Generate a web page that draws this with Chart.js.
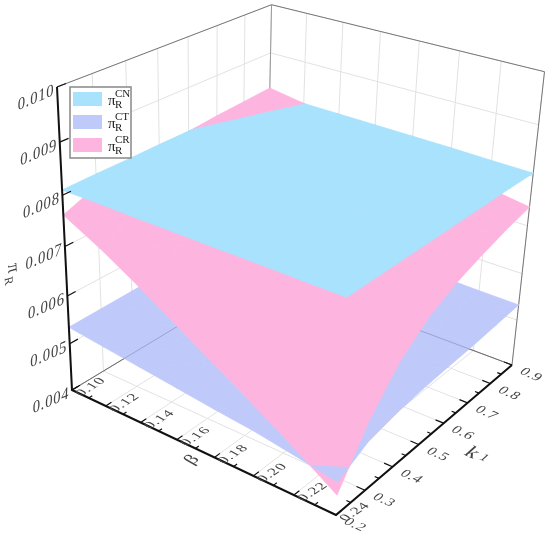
<!DOCTYPE html>
<html>
<head>
<meta charset="utf-8">
<style>
    html, body { margin: 0; padding: 0; background: #fff; }
    canvas { display: block; }
</style>
<script src="https://cdn.jsdelivr.net/npm/chart.js@4"></script>
</head>
<body>
<canvas id="myChart" width="550" height="540"></canvas>
<script>
const betaValues = [0.10, 0.12, 0.14, 0.16, 0.18, 0.20, 0.22, 0.24];
const k1Values = [0.2, 0.3, 0.4, 0.5, 0.6, 0.7, 0.8, 0.9];
const zTicks = [0.004, 0.005, 0.006, 0.007, 0.008, 0.009, 0.010];

const betaLabels = ['0.10', '0.12', '0.14', '0.16', '0.18', '0.20', '0.22', '0.24'];
const k1Labels = ['0.2', '0.3', '0.4', '0.5', '0.6', '0.7', '0.8', '0.9'];
const zLabels = ['0.004', '0.005', '0.006', '0.007', '0.008', '0.009', '0.010'];

// rows are beta, columns are k1
const surfaceCN = [
    [0.00810, 0.00811, 0.00811, 0.00812, 0.00812, 0.00813, 0.00813, 0.00814],
    [0.00810, 0.00810, 0.00811, 0.00811, 0.00812, 0.00812, 0.00812, 0.00813],
    [0.00809, 0.00810, 0.00810, 0.00811, 0.00811, 0.00811, 0.00812, 0.00812],
    [0.00809, 0.00809, 0.00810, 0.00810, 0.00810, 0.00811, 0.00811, 0.00811],
    [0.00808, 0.00809, 0.00809, 0.00809, 0.00810, 0.00810, 0.00810, 0.00810],
    [0.00808, 0.00808, 0.00808, 0.00809, 0.00809, 0.00809, 0.00809, 0.00809],
    [0.00807, 0.00808, 0.00808, 0.00808, 0.00808, 0.00808, 0.00808, 0.00807],
    [0.00807, 0.00807, 0.00807, 0.00807, 0.00807, 0.00807, 0.00807, 0.00806]
];
const surfaceCT = [
    [0.00535, 0.00536, 0.00537, 0.00538, 0.00539, 0.00539, 0.00540, 0.00541],
    [0.00526, 0.00530, 0.00532, 0.00534, 0.00535, 0.00537, 0.00538, 0.00540],
    [0.00517, 0.00523, 0.00527, 0.00530, 0.00532, 0.00534, 0.00536, 0.00539],
    [0.00508, 0.00517, 0.00523, 0.00527, 0.00530, 0.00533, 0.00535, 0.00538],
    [0.00499, 0.00512, 0.00519, 0.00524, 0.00527, 0.00530, 0.00534, 0.00537],
    [0.00491, 0.00507, 0.00515, 0.00521, 0.00525, 0.00528, 0.00532, 0.00536],
    [0.00479, 0.00502, 0.00512, 0.00518, 0.00522, 0.00525, 0.00530, 0.00534],
    [0.00466, 0.00497, 0.00509, 0.00516, 0.00520, 0.00523, 0.00528, 0.00533]
];
const surfaceCR = [
    [0.00762, 0.00787, 0.00798, 0.00806, 0.00811, 0.00817, 0.00821, 0.00825],
    [0.00724, 0.00757, 0.00775, 0.00787, 0.00795, 0.00802, 0.00807, 0.00813],
    [0.00681, 0.00723, 0.00749, 0.00767, 0.00778, 0.00787, 0.00794, 0.00801],
    [0.00634, 0.00687, 0.00722, 0.00745, 0.00760, 0.00771, 0.00780, 0.00788],
    [0.00588, 0.00652, 0.00696, 0.00724, 0.00742, 0.00755, 0.00766, 0.00776],
    [0.00541, 0.00617, 0.00669, 0.00702, 0.00724, 0.00739, 0.00752, 0.00763],
    [0.00492, 0.00580, 0.00641, 0.00680, 0.00706, 0.00723, 0.00738, 0.00751],
    [0.00440, 0.00540, 0.00612, 0.00658, 0.00687, 0.00707, 0.00724, 0.00738]
];

const colorCN = '#a8e2fd';
const colorCT = '#bfcafa';
const colorCR = '#fdb5e0';

// perspective camera, cube coords (u, v, w) -> picture coords
const camX = [72, 223.1, 236.6, -20.7];
const camY = [390, 62.3, -73.3, -311.7];
const camW = [1, -0.1217, 0.1602, -0.1];

const betaMin = betaValues[0], betaMax = betaValues[7];
const k1Min = k1Values[0], k1Max = k1Values[7];
const zMin = zTicks[0], zMax = zTicks[6];

function project(beta, k1, z) {
    const c = [1, (beta - betaMin) / (betaMax - betaMin), (k1 - k1Min) / (k1Max - k1Min), (z - zMin) / (zMax - zMin)];
    const dot = m => m[0] * c[0] + m[1] * c[1] + m[2] * c[2] + m[3] * c[3];
    const w = dot(camW);
    return { x: dot(camX) / w, y: dot(camY) / w };
}

const datasets = [];

function addLine(points, color, width) {
    datasets.push({
        data: points, showLine: true, fill: false,
        borderColor: color, borderWidth: width, pointRadius: 0
    });
}

function addPoly(points, color) {
    datasets.push({
        data: points.concat([points[0]]), showLine: true, fill: 'shape',
        backgroundColor: color, borderColor: color, borderWidth: 0.8, pointRadius: 0,
        borderJoinStyle: 'round'
    });
}

function drawGrid() {
    const grid = '#e2e2e2';
    k1Values.forEach(k => {
        addLine([project(betaMin, k, zMin), project(betaMin, k, zMax)], grid, 1);
        addLine([project(betaMin, k, zMin), project(betaMax, k, zMin)], grid, 1);
    });
    betaValues.forEach(b => {
        addLine([project(b, k1Max, zMin), project(b, k1Max, zMax)], grid, 1);
        addLine([project(b, k1Min, zMin), project(b, k1Max, zMin)], grid, 1);
    });
    zTicks.forEach(z => {
        addLine([project(betaMin, k1Min, z), project(betaMin, k1Max, z)], grid, 1);
        addLine([project(betaMin, k1Max, z), project(betaMax, k1Max, z)], grid, 1);
    });
}

function drawFloorBack(color) {
    addLine([project(betaMin, k1Min, zMin), project(betaMin, k1Max, zMin), project(betaMax, k1Max, zMin)], color, 1);
}

function drawFrame() {
    addLine([project(betaMin, k1Min, zMax), project(betaMin, k1Max, zMax), project(betaMax, k1Max, zMax), project(betaMax, k1Max, zMin)], '#777', 1);
    addLine([project(betaMin, k1Max, zMax), project(betaMin, k1Max, zMin)], '#999', 1);
}

function drawAxes() {
    const black = '#111';
    addLine([project(betaMin, k1Min, zMax), project(betaMin, k1Min, zMin), project(betaMax, k1Min, zMin), project(betaMax, k1Max, zMin)], black, 2);
    zTicks.forEach(z => {
        addLine([project(betaMin, k1Min, z), project(betaMin, k1Min + 0.025, z)], black, 1.2);
    });
    betaValues.forEach((b, i) => {
        addLine([project(b, k1Min, zMin), project(b, k1Min + 0.018, zMin)], black, 1.2);
        if (i < 7) {
            const mid = (b + betaValues[i + 1]) / 2;
            addLine([project(mid, k1Min, zMin), project(mid, k1Min + 0.011, zMin)], black, 1.2);
        }
    });
    k1Values.forEach((k, i) => {
        addLine([project(betaMax, k, zMin), project(betaMax - 0.004, k, zMin)], black, 1.2);
        if (i < 7) {
            const mid = (k + k1Values[i + 1]) / 2;
            addLine([project(betaMax, mid, zMin), project(betaMax - 0.002, mid, zMin)], black, 1.2);
        }
    });
}

// cut a polygon down to the part where test(vertex) > 0
function clipPoly(poly, test) {
    const out = [];
    poly.forEach((a, i) => {
        const b = poly[(i + 1) % poly.length];
        const ta = test(a), tb = test(b);
        if (ta > 0) out.push(a);
        if ((ta > 0) !== (tb > 0)) {
            const t = ta / (ta - tb);
            const p = {};
            Object.keys(a).forEach(key => { p[key] = a[key] + (b[key] - a[key]) * t; });
            out.push(p);
        }
    });
    return out;
}

function vertex(i, j) {
    return { b: betaValues[i], k: k1Values[j], cn: surfaceCN[i][j], ct: surfaceCT[i][j], cr: surfaceCR[i][j] };
}

function eachTriangle(fn) {
    for (let i = 0; i < 7; i++) {
        for (let j = 0; j < 7; j++) {
            fn([vertex(i, j), vertex(i + 1, j), vertex(i + 1, j + 1)]);
            fn([vertex(i, j), vertex(i + 1, j + 1), vertex(i, j + 1)]);
        }
    }
}

function drawPiece(poly, key, color) {
    if (poly.length > 2) addPoly(poly.map(v => project(v.b, v.k, v[key])), color);
}

drawGrid();
drawFloorBack('#777');
drawFrame();
// CR under CT
eachTriangle(t => drawPiece(clipPoly(t, v => v.ct - v.cr), 'cr', colorCR));
eachTriangle(t => drawPiece(t, 'ct', colorCT));
drawFloorBack('rgba(90,90,120,0.35)');
// CR between CT and CN
eachTriangle(t => {
    const p = clipPoly(clipPoly(t, v => v.cr - v.ct), v => v.cn - v.cr);
    drawPiece(p, 'cr', colorCR);
});
eachTriangle(t => drawPiece(t, 'cn', colorCN));
// CR over CN
eachTriangle(t => drawPiece(clipPoly(t, v => v.cr - v.cn), 'cr', colorCR));
drawAxes();

datasets.forEach((d, i) => { d.order = -i; });

function skewText(ctx, text, x, y, ax, ay, font, color) {
    ctx.save();
    ctx.transform(ax[0], ax[1], ay[0], ay[1], x, y);
    ctx.font = font;
    ctx.fillStyle = color;
    ctx.textAlign = 'center';
    ctx.textBaseline = 'middle';
    ctx.fillText(text, 0, 0);
    ctx.restore();
}

const textPlugin = {
    id: 'cubeText',
    afterDatasetsDraw(chart) {
        const ctx = chart.ctx;
        const sx = chart.scales.x, sy = chart.scales.y;
        const at = p => [sx.getPixelForValue(p.x), sy.getPixelForValue(p.y)];
        const grey = '#444';
        const serif = '"Liberation Serif", serif';
        const betaDirX = [0.85, -0.55], betaDirY = [0.78, 0.44];
        const kDirX = [0.92, 0.42], kDirY = [-0.66, 0.6];
        ctx.save();
        ctx.letterSpacing = '0.8px';

        zLabels.forEach((label, i) => {
            const [x, y] = at(project(betaMin, k1Min, zTicks[i]));
            skewText(ctx, label, x - 21, y + 11, [0.92, -0.4], [-0.05, 1.1], '16px ' + serif, grey);
        });
        betaLabels.forEach((label, i) => {
            const [x, y] = at(project(betaValues[i], k1Min, zMin));
            skewText(ctx, label, x + 19, y - 3, betaDirX, betaDirY, '15px ' + serif, grey);
        });
        k1Labels.forEach((label, i) => {
            const [x, y] = at(project(betaMax, k1Values[i], zMin));
            skewText(ctx, label, x + 19, y + 10, kDirX, kDirY, '15px ' + serif, grey);
        });
        ctx.letterSpacing = '0px';

        // axis titles
        skewText(ctx, '\u03b2', 192, 460, betaDirX, betaDirY, '20px ' + serif, grey);
        skewText(ctx, 'k', 472, 453, kDirX, kDirY, '22px ' + serif, grey);
        skewText(ctx, '1', 484, 458, kDirX, kDirY, '14px ' + serif, grey);
        skewText(ctx, '\u03c0', 13, 268, [0.05, 1], [-1, 0.3], '18px ' + serif, grey);
        skewText(ctx, 'R', 8, 281, [0.05, 1], [-1, 0.3], '12px ' + serif, grey);

        // legend
        ctx.fillStyle = '#fff';
        ctx.fillRect(70, 87, 61, 71);
        ctx.strokeStyle = '#888';
        ctx.lineWidth = 1.5;
        ctx.strokeRect(70, 87, 61, 71);
        const rows = [[colorCN, 'CN', 92], [colorCT, 'CT', 115], [colorCR, 'CR', 138]];
        rows.forEach(([color, tag, top]) => {
            ctx.fillStyle = color;
            ctx.fillRect(73, top, 29, 14);
            ctx.fillStyle = '#222';
            ctx.textBaseline = 'middle';
            ctx.textAlign = 'left';
            ctx.font = '15px ' + serif;
            ctx.fillText('\u03c0', 108, top + 9);
            ctx.font = '11px ' + serif;
            ctx.fillText(tag, 115, top + 2);
            ctx.fillText('R', 115, top + 13);
        });
        ctx.restore();
    }
};

const config = {
    type: 'scatter',
    data: { datasets: datasets },
    options: {
        responsive: false,
        animation: false,
        events: [],
        layout: { padding: 0 },
        plugins: { legend: { display: false }, tooltip: { enabled: false } },
        scales: {
            x: { type: 'linear', min: 0, max: 550, display: false },
            y: { type: 'linear', min: 0, max: 540, reverse: true, display: false }
        }
    },
    plugins: [textPlugin]
};

const myChart = new Chart(document.getElementById('myChart'), config);
</script>
</body>
</html>
